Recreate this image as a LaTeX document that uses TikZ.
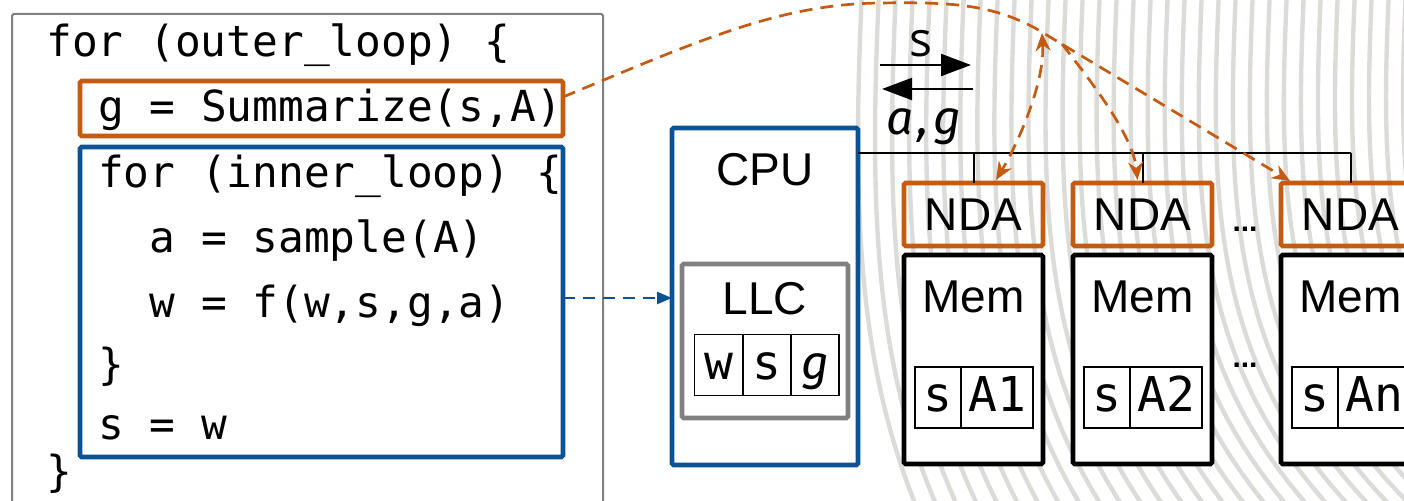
\documentclass[tikz,border=0pt]{standalone}
\usepackage{fontspec}
\setmainfont{Liberation Sans}
\newfontfamily\codefont{DejaVu Sans Mono}
\newfontfamily\osfont{Open Sans}
\newfontfamily\firafont{Fira Sans}
\usetikzlibrary{arrows.meta,calc}

\definecolor{ndaorange}{HTML}{C55A11}
\definecolor{cpublue}{HTML}{0B5394}
\definecolor{boxgrey}{HTML}{808080}
\definecolor{wavegrey}{HTML}{DCDBD7}

\newcommand{\us}{{\char"5F}}

\begin{document}
\begin{tikzpicture}[x=0.5pt,y=-0.5pt,
  wave/.style={draw=wavegrey, line width=2.2pt},
  codeline/.style={font=\codefont\fontsize{21.4}{25}\selectfont, anchor=base west, inner sep=0pt},
  title/.style={font=\fontsize{23}{26}\selectfont, inner sep=0pt},
  frame/.style={inner sep=0pt, outer sep=0pt, rounded corners=0.8pt},
  orangebox/.style={frame, draw=ndaorange, line width=2.3pt},
  bluebox/.style={frame, draw=cpublue, line width=2.3pt},
  greyframe/.style={frame, draw=boxgrey, line width=1pt},
  llcbox/.style={frame, draw=boxgrey, line width=2.3pt},
  membox/.style={frame, draw=black, line width=2.3pt, fill=white},
  cell/.style={draw=black, line width=0.9pt, inner sep=0pt, outer sep=0pt,
    minimum height=30.5pt, text height=14.5pt, text depth=0pt,
    font=\codefont\fontsize{24}{28}\selectfont},
  itg/.style={font=\firafont\itshape\fontsize{24}{28}\selectfont},
  dots/.style={font=\bfseries\fontsize{15}{18}\selectfont, inner sep=0pt},
  bus/.style={draw=black, line width=1pt},
  dataarrow/.style={draw=black, line width=1.1pt, -{Triangle[length=15pt,width=11pt]}},
  bdash/.style={draw=cpublue, line width=1.25pt, dash pattern=on 6pt off 4pt,
    -{Triangle[length=7.5pt,width=6pt]}},
  odash/.style={draw=ndaorange, line width=1.35pt, dash pattern=on 6.5pt off 4pt,
    -{Stealth[length=9pt,width=7.5pt]}},
]
\useasboundingbox (0,0) rectangle (1404,501);
\begin{scope}
\clip (0,0) rectangle (1404,501);

% background line art
\foreach \i in {0,...,33} {
  \pgfmathsetmacro\xa{862+17*\i}
  \pgfmathsetmacro\xb{862+17*\i+60+4*\i}
  \draw[wave] (\xa,-10) .. controls (\xa-10,210) and (\xa-5,370) .. (\xb,520);
}

% pseudo-code panel
\node[greyframe, minimum width=295.5pt, minimum height=258pt] (code) at (307.5,272) {};
\node[orangebox, minimum width=241.5pt, minimum height=27.5pt] (summ) at (321.5,108.5) {};
\node[bluebox, minimum width=241.5pt, minimum height=155pt] (inner) at (321.5,302) {};

\node[codeline] (l1) at (46,57)    {for (outer\us loop) \{};
\node[codeline] (l2) at (97.6,122) {g = Summarize(s,A)};
\node[codeline] (l3) at (97.6,188) {for (inner\us loop) \{};
\node[codeline] (l4) at (149.2,253) {a = sample(A)};
\node[codeline] (l5) at (149.2,318) {w = f(w,s,g,a)};
\node[codeline] (l6) at (97.6,380) {\}};
\node[codeline] (l7) at (97.6,440) {s = w};
\node[codeline] (l8) at (46,487)   {\}};

% CPU with its last-level cache
\node[bluebox, fill=white, minimum width=93pt, minimum height=168.5pt] (cpu) at (765,296.5) {};
\node[title] (cpulbl) at (765,170) {CPU};
\node[llcbox, minimum width=83pt, minimum height=77pt] (llc) at (765,341) {};
\node[title] (llclbl) at (765,299) {LLC};
\node[cell, minimum width=24pt] (cw) at (718.5,365) {w};
\node[cell, minimum width=24pt] (cs) at (767,365) {s};
\node[cell, minimum width=24pt] (cg) at (815,365) {\firafont\itshape\fontsize{24}{28}\selectfont g};

% near-data accelerators and their memories
\foreach \i/\cx/\lab in {1/973.5/A1, 2/1142.5/A2, 3/1350.5/An} {
  \node[orangebox, title, minimum width=69.5pt, minimum height=31.5pt] (nda\i) at (\cx,214.5) {NDA};
  \node[membox, minimum width=69.5pt, minimum height=104.5pt] (mem\i) at (\cx,359.5) {};
  \node[title] (memlbl\i) at (\cx,297) {Mem};
  \node[cell, minimum width=23pt] (ms\i) at (\cx-35.5,397.5) {s};
  \node[cell, minimum width=36pt] (ma\i) at (\cx+23.5,397.5) {\lab};
}
\node[dots] (dotsA) at (1245,229) {...};
\node[dots] (dotsB) at (1245,365) {...};

% shared bus
\coordinate (busY) at (0,153);
\draw[bus] (cpu.east |- busY) -- (nda3.north |- busY);
\foreach \i in {1,2,3} \draw[bus] (nda\i.north |- busY) -- (nda\i.north);

% traffic on the bus
\coordinate (sA) at (880,65);
\coordinate (sB) at (971,65);
\coordinate (agA) at (973,89);
\coordinate (agB) at (882,89);
\draw[dataarrow] (sA) -- (sB);
\draw[dataarrow] (agA) -- (agB);
\node[font=\osfont\fontsize{24}{28}\selectfont, inner sep=0pt] (slbl) at (921,44) {s};
\node[itg, anchor=base, inner sep=0pt] (aglbl) at (924,135) {a\kern2pt,\kern2pt g};

% inner loop runs on the CPU
\coordinate (yA) at (0,298);
\draw[bdash] (inner.east |- yA) -- (cpu.west |- yA);

% summarization offloaded to the accelerators
\coordinate (oY) at (0,97);
\coordinate (bend) at (1035,28);
\coordinate (fork1) at (1042,33);
\coordinate (fork2) at (1062,44);
\draw[odash] (summ.east |- oY) .. controls (700,40) and (780,4) .. (880,3)
  .. controls (950,2) and (990,4) .. (bend) -- ($(nda3.north west)+(9,-2)$);
\draw[odash] (fork2) .. controls (1090,80) and (1133,135) .. ($(nda2.north)+(-5,-3)$);
\draw[odash, {Stealth[length=9pt,width=7.5pt]}-{Stealth[length=9pt,width=7.5pt]}]
  (fork1) .. controls (1045,80) and (1020,140) .. ($(nda1.north)+(22.5,-3)$);
\end{scope}
\end{tikzpicture}
\end{document}
